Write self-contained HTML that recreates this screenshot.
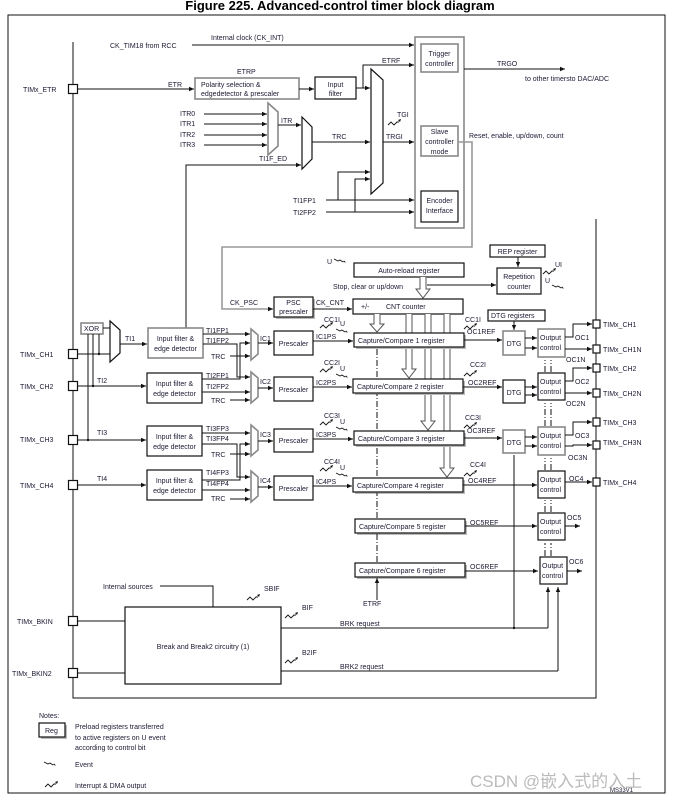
<!DOCTYPE html>
<html><head><meta charset="utf-8"><style>
html,body{margin:0;padding:0;background:#fff;}
svg{display:block;}
text{font-family:"Liberation Sans",sans-serif;font-size:7px;fill:#1a1a33;}
.t{font-size:13px;font-weight:bold;fill:#000;}
.b{fill:#fff;stroke:#111;stroke-width:1.2;}
.g{fill:#fff;stroke:#888;stroke-width:1.6;}
.l{fill:none;stroke:#111;stroke-width:1;}
.gl{fill:none;stroke:#999;stroke-width:1.6;}
.dd{fill:none;stroke:#111;stroke-width:1;stroke-dasharray:6,2,1,2;}
.ha{fill:#fff;stroke:#555;stroke-width:1;}
</style></head><body>
<svg width="679" height="800" viewBox="0 0 679 800" xmlns="http://www.w3.org/2000/svg">
<defs>
<marker id="a" markerWidth="6" markerHeight="6" refX="5" refY="3" orient="auto" markerUnits="userSpaceOnUse"><path d="M0,0.8 L5,3 L0,5.2z" fill="#111"/></marker>
<g id="irq"><path d="M0,4 l3,-3 l3,3 l3,-3 l2,0" fill="none" stroke="#111" stroke-width="0.9"/><path d="M10,-1 l3,-1 l-1,3z" fill="#111"/></g>
<g id="evt"><path d="M0,0 l4,2 l2,-1 l3,2" fill="none" stroke="#111" stroke-width="0.9"/><path d="M9,3 l3,0.5 l-2,-2z" fill="#111"/></g>
</defs>
<text x="340" y="10" text-anchor="middle" class="t">Figure 225. Advanced-control timer block diagram</text>
<rect x="8" y="15" width="657" height="778" fill="none" stroke="#111" stroke-width="1"/>
<path class="l" d="M73,42 V698 H596 V219"/>
<g class="b" stroke-width="1">
<rect x="68.5" y="84.5" width="9" height="9"/><rect x="68.5" y="349.5" width="9" height="9"/><rect x="68.5" y="381.5" width="9" height="9"/><rect x="68.5" y="435.5" width="9" height="9"/><rect x="68.5" y="480.5" width="9" height="9"/><rect x="68.5" y="616.5" width="9" height="9"/><rect x="68.5" y="668.5" width="9" height="9"/>
</g>
<text x="23" y="92">TIMx_ETR</text><text x="20" y="357">TIMx_CH1</text><text x="20" y="389">TIMx_CH2</text><text x="20" y="442">TIMx_CH3</text><text x="20" y="488">TIMx_CH4</text><text x="17" y="624">TIMx_BKIN</text><text x="12" y="676">TIMx_BKIN2</text>
<text x="110" y="48">CK_TIM18 from RCC</text><text x="211" y="40">Internal clock (CK_INT)</text>
<path class="l" d="M192,45 H414" marker-end="url(#a)"/>
<rect class="g" x="415" y="37" width="49" height="191"/>
<rect class="g" x="421" y="44" width="37" height="28"/><text x="439.5" y="56" text-anchor="middle">Trigger</text><text x="439.5" y="66" text-anchor="middle">controller</text>
<rect class="g" x="421" y="126" width="37" height="30"/><text x="439.5" y="134" text-anchor="middle">Slave</text><text x="439.5" y="144" text-anchor="middle">controller</text><text x="439.5" y="154" text-anchor="middle">mode</text>
<rect class="b" x="421" y="191" width="37" height="31"/><text x="439.5" y="203" text-anchor="middle">Encoder</text><text x="439.5" y="213" text-anchor="middle">Interface</text>
<path class="l" d="M464,69 H565" marker-end="url(#a)"/><text x="497" y="66">TRGO</text><text x="525" y="81">to other timersto DAC/ADC</text>
<text x="469" y="138">Reset, enable, up/down, count</text>
<path class="gl" d="M458,142 H472 V247 H222 V309 H273" marker-end="url(#a)"/>
<text x="230" y="305">CK_PSC</text>
<path class="l" d="M78,89 H194" marker-end="url(#a)"/><text x="168" y="87">ETR</text>
<rect class="g" x="195" y="78" width="104" height="21"/><text x="201" y="87">Polarity selection &amp;</text><text x="201" y="96">edgedetector &amp; prescaler</text>
<text x="237" y="74">ETRP</text>
<path class="l" d="M299,89 H314" marker-end="url(#a)"/>
<rect class="b" x="315" y="77" width="41" height="22"/><text x="335.5" y="87" text-anchor="middle">Input</text><text x="335.5" y="96" text-anchor="middle">filter</text>
<path class="l" d="M356,88 H370" marker-end="url(#a)"/>
<path class="l" d="M363,88 V65 H414" marker-end="url(#a)"/><text x="382" y="63">ETRF</text>
<path class="b" d="M371,69 L383,80 V183 L371,194 Z" stroke-width="1"/>
<path class="l" d="M383,142 H414" marker-end="url(#a)"/><text x="386" y="139">TRGI</text><text x="397" y="117">TGI</text><use href="#irq" x="388" y="121"/>
<path class="g" d="M268,103 L278,112 V146 L268,155 Z" stroke-width="1.2"/>
<text x="180" y="116">ITR0</text><text x="180" y="126">ITR1</text><text x="180" y="137">ITR2</text><text x="180" y="147">ITR3</text>
<path class="l" d="M204,114 H267" marker-end="url(#a)"/><path class="l" d="M204,124 H267" marker-end="url(#a)"/><path class="l" d="M204,135 H267" marker-end="url(#a)"/><path class="l" d="M204,145 H267" marker-end="url(#a)"/>
<path class="l" d="M278,125 H301" marker-end="url(#a)"/><text x="281" y="123">ITR</text>
<path class="b" d="M302,117 L312,127 V159 L302,169 Z" stroke-width="1"/>
<path class="l" d="M312,142 H370" marker-end="url(#a)"/><text x="332" y="139">TRC</text>
<path class="l" d="M186,328 V165 H301" marker-end="url(#a)"/><text x="259" y="161">TI1F_ED</text>
<text x="293" y="203">TI1FP1</text><text x="293" y="215">TI2FP2</text>
<path class="l" d="M326,200 H414" marker-end="url(#a)"/><path class="l" d="M326,212 H414" marker-end="url(#a)"/>
<path class="l" d="M338,200 V172 H370" marker-end="url(#a)"/><path class="l" d="M355,212 V179 H370" marker-end="url(#a)"/>
<text x="327" y="264">U</text><use href="#evt" x="334" y="259"/>
<rect class="b" x="354" y="263" width="110" height="14"/><text x="409" y="273" text-anchor="middle">Auto-reload register</text>
<text x="333" y="289">Stop, clear or up/down</text>
<path class="l" d="M427,285 H496" marker-end="url(#a)"/>
<path class="ha" d="M420,277 V289 H416 L423,298 L430,289 H426 V277"/>
<rect class="b" x="490" y="245" width="55" height="12"/><text x="517.5" y="254" text-anchor="middle">REP register</text>
<path class="l" d="M518,257 V267" marker-end="url(#a)"/>
<rect class="b" x="497" y="268" width="44" height="26"/><text x="519" y="279" text-anchor="middle">Repetition</text><text x="519" y="289" text-anchor="middle">counter</text>
<text x="555" y="267">UI</text><use href="#irq" x="543" y="270"/><text x="545" y="283">U</text><use href="#evt" x="552" y="285"/>
<rect x="276" y="299" width="39" height="20" fill="#bbb"/>
<rect class="b" x="274" y="297" width="39" height="20"/><text x="293.5" y="305" text-anchor="middle">PSC</text><text x="293.5" y="314" text-anchor="middle">prescaler</text>
<path class="l" d="M313,309 H352" marker-end="url(#a)"/><text x="316" y="305">CK_CNT</text>
<rect class="b" x="353" y="299" width="110" height="15"/><text x="361" y="309">+/-</text><text x="386" y="309">CNT counter</text>
<path class="ha" d="M374,314 V324 H370 L377,332 L384,324 H380 V314"/>
<path class="ha" d="M406,314 V369 H402 L409,378 L416,369 H412 V314"/>
<path class="ha" d="M425,314 V421 H421 L428,430 L435,421 H431 V314"/>
<path class="ha" d="M444,314 V468 H440 L447,477 L454,468 H450 V314"/>
<g>
<rect x="356" y="335" width="110" height="14" fill="#bbb"/><rect class="b" x="354" y="333" width="110" height="14"/><text x="358" y="343">Capture/Compare 1 register</text>
<rect x="355" y="381" width="110" height="14" fill="#bbb"/><rect class="b" x="353" y="379" width="110" height="14"/><text x="357" y="389">Capture/Compare 2 register</text>
<rect x="356" y="433" width="110" height="14" fill="#bbb"/><rect class="b" x="354" y="431" width="110" height="14"/><text x="358" y="441">Capture/Compare 3 register</text>
<rect x="355" y="480" width="110" height="14" fill="#bbb"/><rect class="b" x="353" y="478" width="110" height="14"/><text x="357" y="488">Capture/Compare 4 register</text>
<rect x="357" y="521" width="110" height="14" fill="#bbb"/><rect class="b" x="355" y="519" width="110" height="14"/><text x="359" y="529">Capture/Compare 5 register</text>
<rect x="357" y="565" width="110" height="14" fill="#bbb"/><rect class="b" x="355" y="563" width="110" height="14"/><text x="359" y="573">Capture/Compare 6 register</text>
</g>
<path class="dd" d="M377,377 V348M377,429 V394M377,476 V446M377,518 V493M377,562 V534"/>
<path class="l" d="M377,600 V578" marker-end="url(#a)"/><text x="363" y="606">ETRF</text>
<text x="324" y="322">CC1I</text><use href="#irq" x="320" y="324"/><text x="340" y="326">U</text><use href="#evt" x="336" y="329"/>
<text x="324" y="365">CC2I</text><use href="#irq" x="320" y="368"/><text x="340" y="371">U</text><use href="#evt" x="336" y="374"/>
<text x="324" y="418">CC3I</text><use href="#irq" x="320" y="421"/><text x="340" y="424">U</text><use href="#evt" x="336" y="427"/>
<text x="324" y="464">CC4I</text><use href="#irq" x="320" y="467"/><text x="340" y="470">U</text><use href="#evt" x="336" y="473"/>
<text x="465" y="322">CC1I</text><use href="#irq" x="464" y="325"/><text x="467" y="334">OC1REF</text>
<text x="470" y="367">CC2I</text><use href="#irq" x="464" y="372"/><text x="468" y="385">OC2REF</text>
<text x="465" y="420">CC3I</text><use href="#irq" x="464" y="424"/><text x="467" y="433">OC3REF</text>
<text x="470" y="467">CC4I</text><use href="#irq" x="464" y="472"/><text x="468" y="483">OC4REF</text>
<text x="470" y="525">OC5REF</text><text x="470" y="569">OC6REF</text>
<path class="l" d="M464,340 H502" marker-end="url(#a)"/><path class="l" d="M463,387 H502" marker-end="url(#a)"/><path class="l" d="M464,438 H502" marker-end="url(#a)"/>
<path class="l" d="M463,485 H537" marker-end="url(#a)"/><path class="l" d="M465,526 H537" marker-end="url(#a)"/><path class="l" d="M465,571 H538" marker-end="url(#a)"/>
<rect class="b" x="488" y="310" width="57" height="11"/><text x="491" y="318">DTG registers</text>
<path class="l" d="M514,321 V330" marker-end="url(#a)"/>
<rect class="g" x="503" y="331" width="22" height="24"/><text x="514" y="346" text-anchor="middle">DTG</text>
<rect class="b" x="503" y="380" width="22" height="23"/><text x="514" y="395" text-anchor="middle">DTG</text>
<rect class="g" x="503" y="430" width="22" height="23"/><text x="514" y="445" text-anchor="middle">DTG</text>
<path class="l" d="M525,338 H537" marker-end="url(#a)"/><path class="l" d="M525,348 H537" marker-end="url(#a)"/>
<path class="l" d="M525,387 H537" marker-end="url(#a)"/><path class="l" d="M525,395 H537" marker-end="url(#a)"/>
<path class="l" d="M525,437 H537" marker-end="url(#a)"/><path class="l" d="M525,446 H537" marker-end="url(#a)"/>
<g>
<rect class="g" x="538" y="329" width="27" height="28"/><text x="540" y="340">Output</text><text x="540" y="350">control</text>
<rect class="b" x="538" y="373" width="27" height="27"/><text x="540" y="384">Output</text><text x="540" y="394">control</text>
<rect class="g" x="538" y="427" width="27" height="28"/><text x="540" y="438">Output</text><text x="540" y="448">control</text>
<rect class="b" x="538" y="471" width="27" height="27"/><text x="540" y="482">Output</text><text x="540" y="492">control</text>
<rect class="b" x="538" y="513" width="27" height="27"/><text x="540" y="524">Output</text><text x="540" y="534">control</text>
<rect class="b" x="540" y="557" width="27" height="27"/><text x="542" y="568">Output</text><text x="542" y="578">control</text>
</g>
<path class="dd" d="M545,372 V360M551,372 V360M545,426 V403M551,426 V403M545,470 V458M551,470 V458M545,512 V500M551,512 V500M545,556 V543M551,556 V543"/>
<path class="l" d="M548,628 V587" marker-end="url(#a)"/><path class="l" d="M558,671 V587" marker-end="url(#a)"/>
<path class="l" d="M514,628 V455"/><circle cx="514" cy="628" r="1.2" fill="#111"/>
<path class="l" d="M565,337 H573 V324 H592" marker-end="url(#a)"/><path class="l" d="M565,349 H592" marker-end="url(#a)"/>
<path class="l" d="M565,381 H573 V368 H592" marker-end="url(#a)"/><path class="l" d="M565,393 H592" marker-end="url(#a)"/>
<path class="l" d="M565,435 H573 V422 H592" marker-end="url(#a)"/><path class="l" d="M565,446 H573 V445 H592" marker-end="url(#a)"/>
<path class="l" d="M565,482 H592" marker-end="url(#a)"/><path class="l" d="M565,526 H580" marker-end="url(#a)"/><path class="l" d="M567,571 H582" marker-end="url(#a)"/>
<text x="575" y="340">OC1</text><text x="566" y="362">OC1N</text><text x="575" y="384">OC2</text><text x="566" y="406">OC2N</text><text x="575" y="438">OC3</text><text x="568" y="460">OC3N</text><text x="569" y="481">OC4</text><text x="567" y="520">OC5</text><text x="569" y="564">OC6</text>
<g class="b" stroke-width="1">
<rect x="593" y="320" width="7" height="8"/><rect x="593" y="345" width="7" height="8"/><rect x="593" y="364" width="7" height="8"/><rect x="593" y="389" width="7" height="8"/><rect x="593" y="418" width="7" height="8"/><rect x="593" y="441" width="7" height="8"/><rect x="593" y="478" width="7" height="8"/>
</g>
<text x="603" y="327">TIMx_CH1</text><text x="603" y="352">TIMx_CH1N</text><text x="603" y="371">TIMx_CH2</text><text x="603" y="396">TIMx_CH2N</text><text x="603" y="425">TIMx_CH3</text><text x="603" y="445">TIMx_CH3N</text><text x="603" y="485">TIMx_CH4</text>
<rect class="g" x="81" y="323" width="22" height="11"/><text x="84" y="331">XOR</text>
<path class="l" d="M103,328 H110"/>
<path class="l" d="M88,334 V440M93,334 V386M99,334 V354"/>
<circle cx="88" cy="440" r="1.2" fill="#111"/><circle cx="93" cy="386" r="1.2" fill="#111"/><circle cx="99" cy="354" r="1.2" fill="#111"/>
<path class="l" d="M78,354 H110"/>
<path class="b" d="M110,321 L120,330 V353 L110,362 Z" stroke-width="1"/>
<path class="l" d="M120,344 H147" marker-end="url(#a)"/><text x="125" y="341">TI1</text>
<path class="l" d="M78,386 H146" marker-end="url(#a)"/><text x="97" y="383">TI2</text>
<path class="l" d="M78,440 H146" marker-end="url(#a)"/><text x="97" y="435">TI3</text>
<path class="l" d="M78,485 H146" marker-end="url(#a)"/><text x="97" y="481">TI4</text>
<rect class="g" x="148" y="328" width="55" height="30"/><text x="175.5" y="341" text-anchor="middle">Input filter &amp;</text><text x="175.5" y="351" text-anchor="middle">edge detector</text>
<rect class="b" x="147" y="373" width="55" height="30"/><text x="174.5" y="386" text-anchor="middle">Input filter &amp;</text><text x="174.5" y="396" text-anchor="middle">edge detector</text>
<rect class="b" x="147" y="426" width="55" height="30"/><text x="174.5" y="439" text-anchor="middle">Input filter &amp;</text><text x="174.5" y="449" text-anchor="middle">edge detector</text>
<rect class="b" x="147" y="470" width="55" height="30"/><text x="174.5" y="483" text-anchor="middle">Input filter &amp;</text><text x="174.5" y="493" text-anchor="middle">edge detector</text>
<g class="g" stroke-width="1.2">
<path d="M251,329 L258,335 V354 L251,360 Z"/><path d="M251,372 L258,378 V397 L251,403 Z"/><path d="M251,425 L258,431 V450 L251,456 Z"/><path d="M251,471 L258,477 V496 L251,502 Z"/>
</g>
<text x="206" y="333">TI1FP1</text><text x="206" y="343">TI1FP2</text><text x="211" y="359">TRC</text>
<text x="206" y="378">TI2FP1</text><text x="206" y="389">TI2FP2</text><text x="211" y="403">TRC</text>
<text x="206" y="431">TI3FP3</text><text x="206" y="441">TI3FP4</text><text x="211" y="457">TRC</text>
<text x="206" y="475">TI4FP3</text><text x="206" y="486">TI4FP4</text><text x="211" y="501">TRC</text>
<path class="l" d="M203,334 H250" marker-end="url(#a)"/><path class="l" d="M203,344 H237 V377 H250" marker-end="url(#a)"/><path class="l" d="M230,356 H250" marker-end="url(#a)"/>
<path class="l" d="M202,379 H240 V343 H250" marker-end="url(#a)"/><path class="l" d="M202,392 H250" marker-end="url(#a)"/><path class="l" d="M230,400 H250" marker-end="url(#a)"/>
<path class="l" d="M202,433 H250" marker-end="url(#a)"/><path class="l" d="M202,444 H237 V477 H250" marker-end="url(#a)"/><path class="l" d="M230,454 H250" marker-end="url(#a)"/>
<path class="l" d="M202,480 H240 V444 H250" marker-end="url(#a)"/><path class="l" d="M202,490 H250" marker-end="url(#a)"/><path class="l" d="M230,499 H250" marker-end="url(#a)"/>
<text x="260" y="341">IC1</text><text x="260" y="384">IC2</text><text x="260" y="437">IC3</text><text x="260" y="483">IC4</text>
<path class="l" d="M258,343 H273" marker-end="url(#a)"/><path class="l" d="M258,388 H273" marker-end="url(#a)"/><path class="l" d="M258,441 H273" marker-end="url(#a)"/><path class="l" d="M258,487 H273" marker-end="url(#a)"/>
<rect class="b" x="274" y="331" width="39" height="24"/><text x="293.5" y="346" text-anchor="middle">Prescaler</text>
<rect class="b" x="274" y="377" width="39" height="24"/><text x="293.5" y="392" text-anchor="middle">Prescaler</text>
<rect class="b" x="274" y="429" width="39" height="23"/><text x="293.5" y="443" text-anchor="middle">Prescaler</text>
<rect class="b" x="274" y="476" width="39" height="24"/><text x="293.5" y="491" text-anchor="middle">Prescaler</text>
<text x="316" y="339">IC1PS</text><text x="316" y="385">IC2PS</text><text x="316" y="437">IC3PS</text><text x="316" y="484">IC4PS</text>
<path class="l" d="M313,341 H353" marker-end="url(#a)"/><path class="l" d="M313,387 H352" marker-end="url(#a)"/><path class="l" d="M313,439 H353" marker-end="url(#a)"/><path class="l" d="M313,486 H352" marker-end="url(#a)"/>
<text x="103" y="589">Internal sources</text><path class="l" d="M160,586 H213 V607"/>
<rect class="b" x="125" y="607" width="156" height="77"/><text x="203" y="649" text-anchor="middle">Break and Break2 circuitry (1)</text>
<path class="l" d="M78,621 H125M78,673 H125"/>
<use href="#irq" x="247" y="596"/><text x="264" y="591">SBIF</text>
<use href="#irq" x="285" y="614"/><text x="302" y="610">BIF</text>
<use href="#irq" x="285" y="659"/><text x="302" y="655">B2IF</text>
<path class="l" d="M281,628 H548M281,671 H558"/>
<text x="340" y="626">BRK request</text><text x="340" y="669">BRK2 request</text>
<text x="39" y="718">Notes:</text>
<rect x="41" y="725" width="26" height="14" fill="#bbb"/><rect class="b" x="39" y="723" width="26" height="14"/><text x="45" y="733">Reg</text>
<text x="75" y="729">Preload registers transferred</text><text x="75" y="740">to active registers on U event</text><text x="75" y="750">according to control bit</text>
<use href="#evt" x="44" y="762"/><text x="75" y="767">Event</text>
<use href="#irq" x="45" y="783"/><text x="75" y="788">Interrupt &amp; DMA output</text>
<text x="610" y="792" style="font-size:6px">MS33V1</text>
<text x="470" y="787" style="font-size:17px;fill:#bbb;font-family:'Liberation Sans','Noto Sans CJK SC',sans-serif">CSDN @嵌入式的入土</text>
</svg>
</body></html>
